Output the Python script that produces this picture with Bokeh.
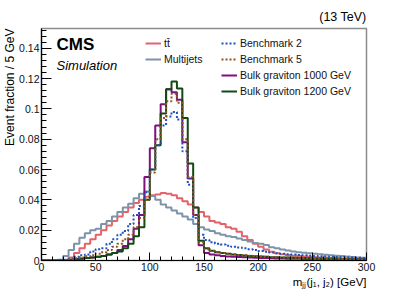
import math
from bokeh.plotting import figure
from bokeh.models import (Label, Legend, LegendItem, FixedTicker, CustomJSTickFormatter, Title)
from bokeh.embed import file_html
from bokeh.resources import INLINE

# ---------------- data ----------------
bin_width = 5
bin_edges = list(range(0, 305, bin_width))  # 0..300

ttbar = [0, 0, 0, 0, 0.0003, 0.002, 0.005, 0.008, 0.011, 0.014,
         0.017, 0.020, 0.023, 0.026, 0.029, 0.032, 0.035, 0.038, 0.040, 0.042,
         0.043, 0.0435, 0.0445, 0.044, 0.043, 0.041, 0.039, 0.037, 0.035, 0.032,
         0.029, 0.026, 0.025, 0.024, 0.022, 0.021, 0.019, 0.016, 0.0135, 0.011,
         0.009, 0.0072, 0.0058, 0.0048, 0.0041, 0.0036, 0.0032, 0.0029, 0.0026, 0.0024,
         0.0022, 0.0020, 0.0018, 0.0016, 0.0015, 0.0014, 0.0013, 0.0012, 0.0011, 0.0010]

multijets = [0, 0, 0, 0.0005, 0.003, 0.007, 0.011, 0.015, 0.018, 0.020,
             0.021, 0.024, 0.026, 0.029, 0.032, 0.035, 0.0375, 0.041, 0.044, 0.0455,
             0.0425, 0.040, 0.037, 0.035, 0.033, 0.031, 0.029, 0.027, 0.024, 0.022,
             0.0205, 0.0195, 0.018, 0.017, 0.016, 0.0155, 0.0145, 0.0135, 0.0125, 0.0115,
             0.011, 0.0102, 0.0088, 0.008, 0.0072, 0.0066, 0.006, 0.0055, 0.0051, 0.0048,
             0.0045, 0.0041, 0.0038, 0.0035, 0.0032, 0.0029, 0.0026, 0.0023, 0.0020, 0.0018]

benchmark2 = [0, 0, 0, 0, 0.0005, 0.0012, 0.0025, 0.0035, 0.004, 0.006,
              0.0075, 0.008, 0.011, 0.014, 0.017, 0.0195, 0.024, 0.030, 0.036, 0.045,
              0.060, 0.076, 0.089, 0.095, 0.098, 0.093, 0.072, 0.050, 0.028, 0.017,
              0.0135, 0.012, 0.011, 0.0105, 0.0098, 0.009, 0.0085, 0.008, 0.0075, 0.007,
              0.0062, 0.0058, 0.0052, 0.0048, 0.0045, 0.0042, 0.0040, 0.0037, 0.0034, 0.0032,
              0.0030, 0.0028, 0.0026, 0.0024, 0.0023, 0.0021, 0.0020, 0.0019, 0.0018, 0.0017]

benchmark5 = [0, 0, 0, 0, 0.0003, 0.0008, 0.0015, 0.002, 0.0028, 0.0035,
              0.0045, 0.0055, 0.007, 0.009, 0.011, 0.014, 0.017, 0.022, 0.028, 0.040,
              0.058, 0.080, 0.094, 0.105, 0.110, 0.104, 0.080, 0.055, 0.030, 0.012,
              0.0075, 0.0062, 0.0055, 0.005, 0.0045, 0.004, 0.0037, 0.0034, 0.0031, 0.0029,
              0.0027, 0.0025, 0.0023, 0.0021, 0.002, 0.0019, 0.0018, 0.0017, 0.0016, 0.0015,
              0.0014, 0.0013, 0.0012, 0.0012, 0.0011, 0.0010, 0.0010, 0.0009, 0.0009, 0.0008]

bulk1000 = [0, 0, 0, 0, 0.0002, 0.0005, 0.001, 0.0013, 0.0017, 0.002,
            0.0025, 0.003, 0.004, 0.005, 0.007, 0.0095, 0.014, 0.021, 0.030, 0.055,
            0.074, 0.089, 0.103, 0.113, 0.111, 0.106, 0.078, 0.054, 0.030, 0.010,
            0.005, 0.004, 0.0035, 0.003, 0.0027, 0.0025, 0.0023, 0.0021, 0.002, 0.0018,
            0.0017, 0.0016, 0.0015, 0.0014, 0.0013, 0.0012, 0.0011, 0.0011, 0.0010, 0.0010,
            0.0009, 0.0009, 0.0008, 0.0008, 0.0007, 0.0007, 0.0007, 0.0006, 0.0006, 0.0006]

bulk1200 = [0, 0, 0, 0, 0.0001, 0.0003, 0.0008, 0.0012, 0.0016, 0.002,
            0.0025, 0.003, 0.004, 0.005, 0.006, 0.008, 0.011, 0.016, 0.022, 0.040,
            0.060, 0.076, 0.097, 0.113, 0.118, 0.1135, 0.094, 0.064, 0.035, 0.013,
            0.008, 0.0065, 0.0055, 0.005, 0.0045, 0.004, 0.0036, 0.0033, 0.003, 0.0028,
            0.0026, 0.0024, 0.0022, 0.0021, 0.002, 0.0019, 0.0018, 0.0017, 0.0016, 0.0015,
            0.0014, 0.0013, 0.0012, 0.0012, 0.0011, 0.0010, 0.0010, 0.0009, 0.0009, 0.0008]

series_labels = ["tt\u0304", "Multijets", "Benchmark 2", "Benchmark 5",
                 "Bulk graviton 1000 GeV", "Bulk graviton 1200 GeV"]

y_ticks = [0, 0.02, 0.04, 0.06, 0.08, 0.1, 0.12, 0.14]
x_ticks = [0, 50, 100, 150, 200, 250, 300]

x_title = "m\u2c7c\u2c7c(j\u2081, j\u2082) [GeV]"
y_title = "Event fraction / 5 GeV"
energy_text = "(13 TeV)"

FONT = "Liberation Sans"

# ---------------- figure ----------------
p = figure(width=407, height=292, x_range=(0, 300), y_range=(0, 0.153),
           output_backend="svg", toolbar_location=None,
           min_border_left=40, min_border_right=41, min_border_top=28, min_border_bottom=32)
p.xgrid.visible = False
p.ygrid.visible = False
p.outline_line_color = "#8c8c8c"
p.outline_line_width = 1.5
p.background_fill_color = "white"
p.border_fill_color = "white"

# energy label as the (right-aligned) title above the frame
p.title.text = energy_text
p.title.align = "right"
p.title.text_font = FONT
p.title.text_font_size = "12.5px"
p.title.text_font_style = "normal"
p.title.text_color = "black"
p.title.standoff = 10

for ax in (p.xaxis[0], p.yaxis[0]):
    ax.axis_line_color = "black"
    ax.axis_line_width = 1.2
    ax.major_tick_line_color = "black"
    ax.minor_tick_line_color = "black"
    ax.major_tick_out = 0
    ax.minor_tick_out = 0
    ax.major_label_text_font = FONT
    ax.major_label_text_font_size = "10.5px"
    ax.major_label_text_color = "#111111"

p.yaxis.major_tick_in = 10
p.yaxis.minor_tick_in = 5
p.yaxis.major_label_standoff = 2
p.xaxis.major_tick_in = 8
p.xaxis.minor_tick_in = 4
p.xaxis.major_label_standoff = 2

p.yaxis.ticker = FixedTicker(ticks=y_ticks,
                             minor_ticks=[round(i * 0.004, 4) for i in range(0, 39)])
p.xaxis.ticker = FixedTicker(ticks=x_ticks, minor_ticks=list(range(0, 310, 10)))
p.yaxis.formatter = CustomJSTickFormatter(code="return String(Math.round(tick*100)/100);")

# axis titles (ROOT style: aligned to the end of the axes)
ytitle = Title(text=y_title, align="right", text_font=FONT, text_font_size="12px",
               text_font_style="normal", text_color="black", standoff=0)
p.add_layout(ytitle, "left")
xtitle = Title(text=x_title, align="right", text_font=FONT, text_font_size="11.5px",
               text_font_style="normal", text_color="black", standoff=0)
p.add_layout(xtitle, "below")


def step_ys(vals):
    return list(vals) + [vals[-1]]


styles = [
    (ttbar, "#e2636a", None),
    (multijets, "#7c93aa", None),
    (bulk1000, "#7f0f7f", None),
    (bulk1200, "#124a12", None),
    (benchmark2, "#1f4fc0", "2 2"),
    (benchmark5, "#8b5420", "2 2"),
]
renderers = []
for vals, col, dash in styles:
    kw = dict(line_color=col, line_width=2)
    if dash:
        kw["line_dash"] = dash
    r = p.step(x=bin_edges, y=step_ys(vals), mode="after", **kw)
    renderers.append(r)

r_tt, r_mj, r_b1000, r_b1200, r_bm2, r_bm5 = renderers


def make_legend(items, loc):
    lg = Legend(items=items, location=loc, orientation="vertical",
                border_line_color=None, background_fill_alpha=0,
                label_text_font=FONT, label_text_font_size="10.5px",
                label_text_color="#111111",
                glyph_width=16, glyph_height=14, label_height=14,
                label_standoff=3, spacing=2, padding=0, margin=0)
    return lg

leg1 = make_legend([LegendItem(label=series_labels[0], renderers=[r_tt]),
                    LegendItem(label=series_labels[1], renderers=[r_mj])], (104, 194))
leg2 = make_legend([LegendItem(label=series_labels[2], renderers=[r_bm2]),
                    LegendItem(label=series_labels[3], renderers=[r_bm5]),
                    LegendItem(label=series_labels[4], renderers=[r_b1000]),
                    LegendItem(label=series_labels[5], renderers=[r_b1200])], (180, 162))
p.add_layout(leg1)
p.add_layout(leg2)

# ---------------- texts inside the frame ----------------
def lab(text, x, y, size, **kw):
    l = Label(text=text, x=x, y=y, x_units="screen", y_units="screen",
              text_font=FONT, text_font_size=size, text_color="black", **kw)
    p.add_layout(l)
    return l

lab("CMS", 15, 216, "17px", text_font_style="bold", text_baseline="middle")
lab("Simulation", 15, 195, "13px", text_font_style="italic", text_baseline="middle")

open("out.html", "w").write(file_html(p, INLINE))
